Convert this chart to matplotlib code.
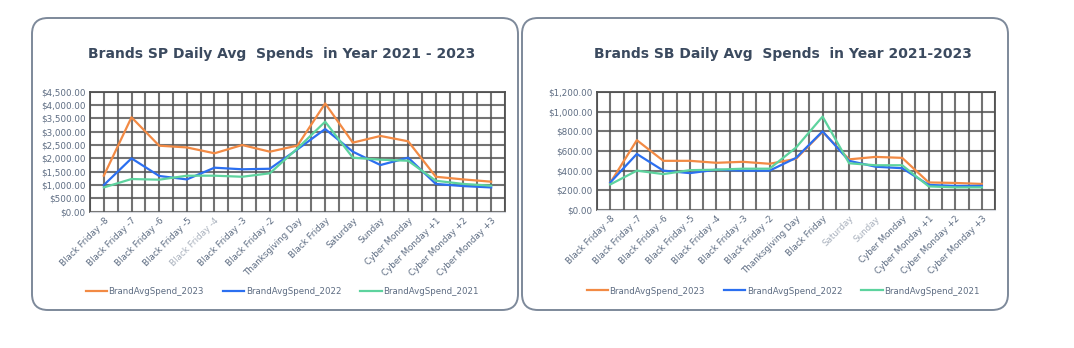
import matplotlib
matplotlib.use("Agg")
import matplotlib.pyplot as plt
from matplotlib.patches import FancyBboxPatch
from matplotlib.ticker import MultipleLocator, FuncFormatter

# Days around the Black Friday / Cyber Monday weekend
days = ["Black Friday -8", "Black Friday -7", "Black Friday -6", "Black Friday -5",
        "Black Friday -4", "Black Friday -3", "Black Friday -2", "Thanksgiving Day",
        "Black Friday", "Saturday", "Sunday", "Cyber Monday",
        "Cyber Monday +1", "Cyber Monday +2", "Cyber Monday +3"]

# Sponsored Products average daily spend per brand
sp_2023 = [1350, 3540, 2475, 2410, 2190, 2500, 2250, 2480, 4060, 2590, 2840, 2640, 1310, 1210, 1125]
sp_2022 = [1000, 2000, 1340, 1210, 1650, 1590, 1610, 2340, 3100, 2250, 1750, 2025, 1040, 960, 910]
sp_2021 = [910, 1225, 1200, 1350, 1350, 1310, 1440, 2375, 3375, 2025, 1950, 1910, 1160, 1040, 975]

# Sponsored Brands average daily spend per brand
sb_2023 = [277, 710, 500, 500, 480, 490, 470, 520, 795, 515, 540, 530, 280, 275, 265]
sb_2022 = [280, 570, 400, 375, 410, 400, 400, 530, 800, 500, 440, 425, 255, 245, 245]
sb_2021 = [260, 400, 365, 405, 410, 420, 420, 635, 950, 475, 455, 455, 240, 230, 230]

c23, c22, c21 = "#f28a44", "#2b6ff0", "#5dd39e"
title_col = "#3b4a5f"
tick_col = "#5d6c82"
faint_col = "#a9b1bd"
grid_col = "#505050"

fig = plt.figure(figsize=(10.74, 3.48), dpi=100)

# rounded card outlines (inches)
for x0 in (0.32, 5.22):
    card = FancyBboxPatch((x0, 0.38), 4.86, 2.92,
                          boxstyle="round,pad=0,rounding_size=0.16",
                          transform=fig.dpi_scale_trans, facecolor="none",
                          edgecolor="#7d899a", linewidth=1.4, zorder=-1)
    fig.patches.append(card)


def money(v, pos):
    return "${:,.2f}".format(v)


def draw(ax, s23, s22, s21, ymax, step, faint, title, tx, leg_y):
    x = list(range(len(days)))
    ax.plot(x, s23, color=c23, lw=1.6, label="BrandAvgSpend_2023", zorder=3)
    ax.plot(x, s22, color=c22, lw=1.6, label="BrandAvgSpend_2022", zorder=3)
    ax.plot(x, s21, color=c21, lw=1.6, label="BrandAvgSpend_2021", zorder=3)
    ax.set_xlim(-0.5, len(days) - 0.5)
    ax.set_ylim(0, ymax)
    ax.yaxis.set_major_locator(MultipleLocator(step))
    ax.yaxis.set_major_formatter(FuncFormatter(money))
    ax.set_xticks(x)
    ax.set_xticklabels(days, rotation=45, ha="right", rotation_mode="anchor")
    ax.xaxis.set_minor_locator(MultipleLocator(0.5))
    ax.grid(True, which="major", axis="y", color=grid_col, lw=1.5, alpha=0.8)
    ax.grid(True, which="both", axis="x", color=grid_col, lw=1.5, alpha=0.8)
    ax.tick_params(axis="both", which="both", length=0, labelsize=6.3,
                   labelcolor=tick_col, pad=3)
    for lab in ax.get_xticklabels():
        if lab.get_text() in faint:
            lab.set_color(faint_col)
    for side in ("left", "right", "top"):
        ax.spines[side].set_color(grid_col)
        ax.spines[side].set_linewidth(1.3)
    ax.spines["bottom"].set_color("#d5d8dd")
    ax.set_axisbelow(True)
    leg = fig.legend(*ax.get_legend_handles_labels(), loc="center",
                     bbox_to_anchor=(tx, 1 - leg_y / 348), ncol=3,
                     frameon=False, fontsize=6.2, handlelength=2.5,
                     handletextpad=0.15, columnspacing=2.2)
    for t in leg.get_texts():
        t.set_color(tick_col)
    fig.text(tx, 1 - 54 / 348, title, ha="center", va="center",
             fontsize=10, fontweight="bold", color=title_col)


ax1 = fig.add_axes([0.0838, 0.3917, 0.3864, 0.3448])
draw(ax1, sp_2023, sp_2022, sp_2021, 4500, 500, ["Black Friday -4"],
     "Brands SP Daily Avg  Spends  in Year 2021 - 2023", 282 / 1074, 292)

ax2 = fig.add_axes([0.5559, 0.3966, 0.3706, 0.339])
draw(ax2, sb_2023, sb_2022, sb_2021, 1200, 200, ["Saturday", "Sunday"],
     "Brands SB Daily Avg  Spends  in Year 2021-2023", 783 / 1074, 291)

fig.savefig("out.png", dpi=100)
